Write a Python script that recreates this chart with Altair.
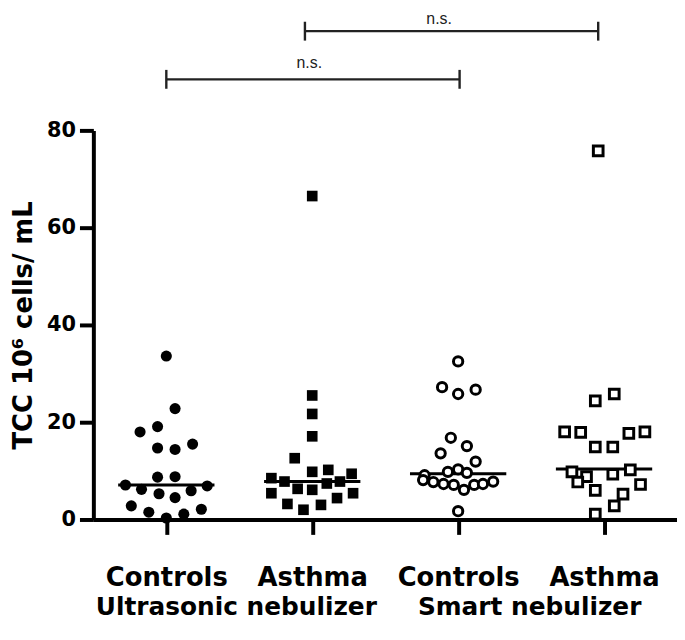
import altair as alt
import pandas as pd

# ---------------- data ----------------
group_names = ["Controls", "Asthma", "Controls", "Asthma"]
device_names = ["Ultrasonic nebulizer", "Smart nebulizer"]
device_centers = [0.48, 2.49]

# TCC (10^6 cells/mL) per subject, with horizontal scatter offset (category units)
us_controls_tcc = [33.6, 22.8, 19.1, 18.0, 14.7, 14.4, 15.5, 8.7, 8.8, 7.1,
                   6.2, 5.3, 4.5, 5.9, 6.9, 2.8, 1.5, 0.3, 1.1, 2.1]
us_controls_dx = [0.0, 0.06, -0.06, -0.18, -0.06, 0.06, 0.18, -0.06, 0.06, -0.28,
                  -0.17, -0.05, 0.06, 0.17, 0.28, -0.24, -0.12, 0.0, 0.12, 0.24]

us_asthma_tcc = [66.5, 25.5, 21.7, 17.1, 12.6, 9.8, 10.2, 9.4, 8.5, 7.8,
                 7.4, 7.8, 5.4, 6.3, 6.1, 5.4, 3.2, 4.4, 3.0, 2.0]
us_asthma_dx = [0.0, 0.0, 0.0, 0.0, -0.12, 0.0, 0.11, 0.27, -0.28, -0.19,
                0.1, 0.19, -0.28, -0.1, 0.0, 0.28, -0.17, 0.17, 0.06, -0.06]

sm_controls_tcc = [32.5, 27.2, 25.8, 26.7, 16.8, 15.1, 13.6, 11.9, 9.1, 9.8, 10.3,
                   9.6, 8.1, 7.7, 7.3, 7.1, 6.1, 7.1, 7.3, 7.8, 1.7]
sm_controls_dx = [0.0, -0.11, 0.0, 0.12, -0.05, 0.06, -0.12, 0.12, -0.23, -0.07, 0.0,
                  0.06, -0.24, -0.17, -0.1, -0.03, 0.04, 0.11, 0.17, 0.24, 0.0]

sm_asthma_tcc = [75.8, 24.4, 25.8, 18.0, 17.9, 14.9, 14.9, 17.7, 18.0, 9.8,
                 8.8, 7.7, 9.3, 10.2, 7.2, 6.0, 5.2, 2.8, 1.1]
sm_asthma_dx = [-0.04, -0.06, 0.07, -0.27, -0.16, -0.06, 0.06, 0.17, 0.28, -0.22,
                -0.12, -0.18, 0.06, 0.18, 0.25, -0.06, 0.13, 0.07, -0.06]

medians = [7.1, 7.8, 9.4, 10.4]
median_half_width = 0.33

bracket_start = [0.0, 0.95]
bracket_end = [2.01, 2.96]
bracket_level = [90.5, 100.4]
bracket_label = ["n.s.", "n.s."]
bracket_label_x = [0.98, 1.87]
bracket_label_y = [92.9, 101.8]
bracket_cap = 1.94

# ---------------- tables ----------------
def group_df(vals, dx, idx):
    return pd.DataFrame({"x": [idx + d for d in dx], "tcc": vals})

df1 = group_df(us_controls_tcc, us_controls_dx, 0)
df2 = group_df(us_asthma_tcc, us_asthma_dx, 1)
df3 = group_df(sm_controls_tcc, sm_controls_dx, 2)
df4 = group_df(sm_asthma_tcc, sm_asthma_dx, 3)

med_df = pd.DataFrame({
    "x1": [i - median_half_width for i in range(4)],
    "x2": [i + median_half_width for i in range(4)],
    "m": medians,
})

br_df = pd.DataFrame({"x1": bracket_start, "x2": bracket_end, "y": bracket_level})
cap_df = pd.DataFrame({
    "x": bracket_start + bracket_end,
    "y1": [v - bracket_cap for v in bracket_level] * 2,
    "y2": [v + bracket_cap for v in bracket_level] * 2,
})
lab_df = pd.DataFrame({"x": bracket_label_x, "y": bracket_label_y, "t": bracket_label})
dev_df = pd.DataFrame({"x": device_centers, "t": device_names})

# ---------------- scales / axes ----------------
FONT = "DejaVu Sans"
xs = alt.Scale(domain=[-0.5, 3.5], nice=False, zero=False)
ys = alt.Scale(domain=[0, 80], nice=False, zero=True)

label_expr = "[" + ",".join(f"'{g}'" for g in group_names) + "][datum.value]"
xaxis = alt.Axis(
    values=[0, 1, 2, 3], labelExpr=label_expr, title=None, grid=False,
    domainWidth=4, domainColor="black", tickWidth=4, tickColor="black", tickSize=15,
    labelFont=FONT, labelFontSize=26, labelFontWeight="bold", labelColor="black",
    labelBaseline="alphabetic", labelPadding=52, labelFlush=False, labelOverlap=False,
)
yaxis = alt.Axis(
    values=[0, 20, 40, 60, 80], title="TCC 10\u2076 cells/ mL", grid=False,
    domainWidth=4, domainColor="black", tickWidth=4, tickColor="black", tickSize=14,
    labelFont=FONT, labelFontSize=21, labelFontWeight="bold", labelColor="black",
    labelPadding=4, labelFlush=False,
    titleFont=FONT, titleFontSize=26, titleFontWeight="bold", titleColor="black",
    titleAngle=270, titleBaseline="alphabetic", titleAlign="center",
    titleX=-62, titleY=196,
)

def X(field):
    return alt.X(field, type="quantitative", scale=xs, axis=xaxis)

def Y(field):
    return alt.Y(field, type="quantitative", scale=ys, axis=yaxis)

pts1 = alt.Chart(df1).mark_point(shape="circle", filled=True, color="black", size=125, opacity=1).encode(x=X("x"), y=Y("tcc"))
pts2 = alt.Chart(df2).mark_point(shape="square", filled=True, color="black", size=115, opacity=1).encode(x=X("x"), y=Y("tcc"))
pts3 = alt.Chart(df3).mark_point(shape="circle", filled=True, fill="white", stroke="black", strokeWidth=3, size=88, opacity=1).encode(x=X("x"), y=Y("tcc"))
pts4 = alt.Chart(df4).mark_point(shape="square", filled=True, fill="white", stroke="black", strokeWidth=3, size=95, opacity=1).encode(x=X("x"), y=Y("tcc"))

med = alt.Chart(med_df).mark_rule(color="black", strokeWidth=3).encode(x=X("x1"), x2="x2", y=Y("m"))

br = alt.Chart(br_df).mark_rule(color="#222222", strokeWidth=2.4).encode(x=X("x1"), x2="x2", y=Y("y"))
caps = alt.Chart(cap_df).mark_rule(color="#222222", strokeWidth=2.4).encode(x=X("x"), y=Y("y1"), y2="y2")
labs = alt.Chart(lab_df).mark_text(font="Liberation Sans", fontSize=16, color="#222222",
                                   baseline="alphabetic", align="center").encode(x=X("x"), y=Y("y"), text="t")
devs = alt.Chart(dev_df).mark_text(font=FONT, fontSize=25, fontWeight="bold", color="black",
                                   baseline="alphabetic", align="center").encode(
    x=X("x"), y=alt.value(488), text="t")

chart = alt.layer(med, pts3, pts4, pts1, pts2, br, caps, labs, devs).properties(
    width=588, height=392,
    autosize=alt.AutoSizeParams(type="none"),
    padding={"left": 86, "top": 121, "right": 0, "bottom": 105},
).configure_view(stroke=None)

chart.save("out.html", embed_options={"renderer": "svg", "actions": False})
